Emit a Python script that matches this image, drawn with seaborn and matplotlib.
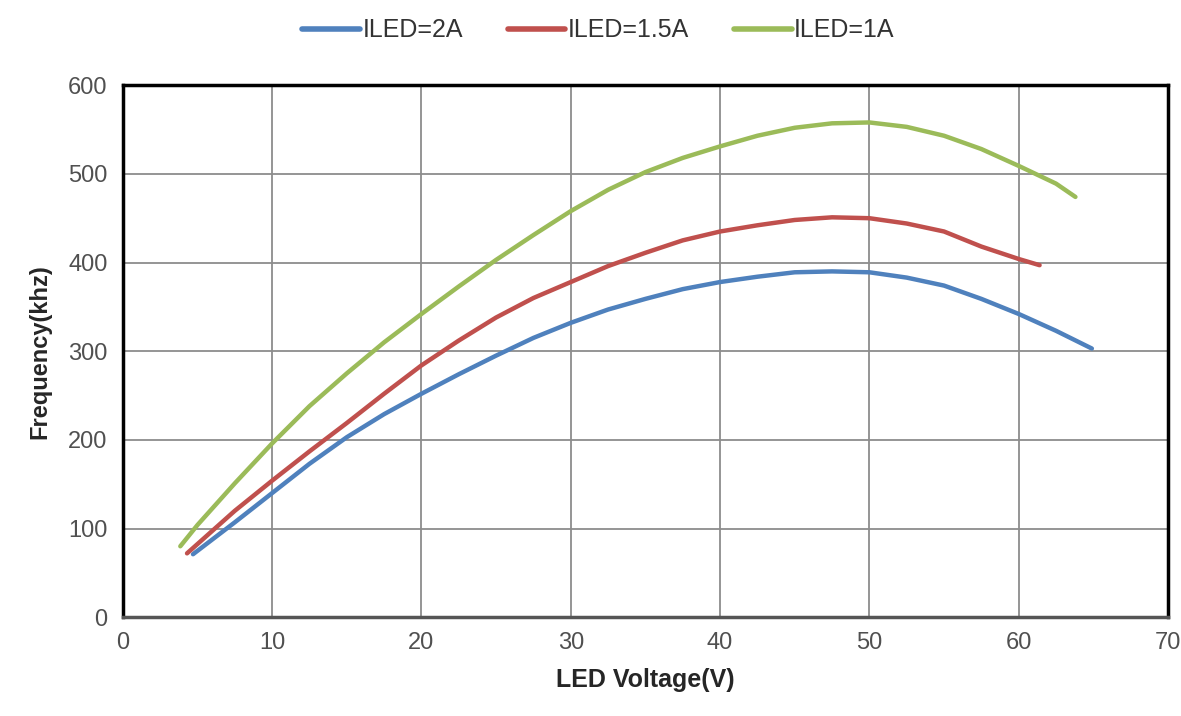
import pandas as pd
import matplotlib.pyplot as plt
import seaborn as sns

# values
volt_2a = [4.7, 7.5, 10, 12.5, 15, 17.5, 20, 22.5, 25, 27.5, 30, 32.5, 35, 37.5, 40,
           42.5, 45, 47.5, 50, 52.5, 55, 57.5, 60, 62.5, 64.9]
freq_2a = [71, 107, 140, 173, 203, 229, 252, 274, 295, 315, 332, 347, 359, 370, 378,
           384, 389, 390, 389, 383, 374, 359, 342, 323, 303]

volt_15a = [4.3, 7.5, 10, 12.5, 15, 17.5, 20, 22.5, 25, 27.5, 30, 32.5, 35, 37.5, 40,
            42.5, 45, 47.5, 50, 52.5, 55, 57.5, 60, 61.4]
freq_15a = [72, 120, 154, 187, 219, 252, 284, 312, 338, 360, 378, 396, 411, 425, 435,
            442, 448, 451, 450, 444, 435, 418, 404, 397]

volt_1a = [3.85, 5, 7.5, 10, 12.5, 15, 17.5, 20, 22.5, 25, 27.5, 30, 32.5, 35, 37.5, 40,
           42.5, 45, 47.5, 50, 52.5, 55, 57.5, 60, 62.5, 63.8]
freq_1a = [80, 104, 151, 196, 238, 275, 310, 342, 373, 403, 431, 458, 482, 502, 518, 531,
           543, 552, 557, 558, 553, 543, 528, 509, 489, 474]

labels = ["ILED=2A", "ILED=1.5A", "ILED=1A"]
colors = ["#4F81BD", "#C0504D", "#9BBB59"]

frames = []
for lab, vx, fy in zip(labels, [volt_2a, volt_15a, volt_1a], [freq_2a, freq_15a, freq_1a]):
    frames.append(pd.DataFrame({"voltage": vx, "freq": fy, "series": lab}))
df = pd.concat(frames, ignore_index=True)

sns.set_style("white")
plt.rcParams["font.family"] = ["Liberation Sans", "DejaVu Sans"]

fig = plt.figure(figsize=(11.81, 7.16), dpi=100)
ax = fig.add_axes([0.104, 0.138, 0.885, 0.743])

sns.lineplot(data=df, x="voltage", y="freq", hue="series", hue_order=labels,
             palette=colors, linewidth=3.2, sort=False, estimator=None, ax=ax)
for ln in ax.get_lines():
    ln.set_solid_joinstyle("round")
    ln.set_solid_capstyle("round")

ax.set_xlim(0, 70)
ax.set_ylim(0, 600)
ax.set_xticks(range(0, 71, 10))
ax.set_yticks(range(0, 601, 100))
ax.grid(True, color="#8c8c8c", linewidth=1.3)
ax.set_axisbelow(True)

for side in ["top", "left", "right"]:
    ax.spines[side].set_color("black")
    ax.spines[side].set_linewidth(2.5)
ax.spines["bottom"].set_color("#555555")
ax.spines["bottom"].set_linewidth(2.5)

ax.tick_params(axis="both", which="both", length=5, width=1, color="#999999",
               labelsize=17, labelcolor="#505050", pad=6)

ax.set_xlabel("LED Voltage(V)", fontsize=18, fontweight="bold", labelpad=10)
ax.set_ylabel("Frequency(khz)", fontsize=17, fontweight="bold", labelpad=12)

leg = ax.legend(loc="center", bbox_to_anchor=(0.455, 1.103), ncol=3, frameon=False,
                fontsize=18, handlelength=2.3, handletextpad=0.1, columnspacing=1.8)
for line in leg.get_lines():
    line.set_linewidth(4)
for txt in leg.get_texts():
    txt.set_color("#333333")

fig.savefig("out.png", dpi=100)
